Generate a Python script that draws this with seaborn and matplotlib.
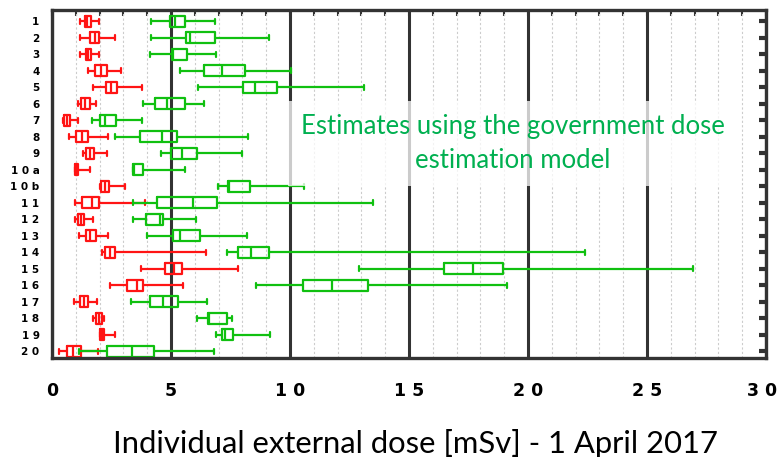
import numpy as np
import pandas as pd
import seaborn as sns
import matplotlib.pyplot as plt
import matplotlib.transforms as mtransforms
from matplotlib.ticker import MultipleLocator

# area labels (top to bottom)
groups = ['1', '2', '3', '4', '5', '6', '7', '8', '9', '10a', '10b',
          '11', '12', '13', '14', '15', '16', '17', '18', '19', '20']
group_labels = ['1', '2', '3', '4', '5', '6', '7', '8', '9', '1 0 a', '1 0 b',
                '1 1', '1 2', '1 3', '1 4', '1 5', '1 6', '1 7', '1 8', '1 9', '2 0']

# measured individual doses [mSv] (red): whisker low, q1, median, q3, whisker high
red_lo = [1.17, 1.17, 1.17, 1.52, 1.73, 1.09, 0.46, 0.71, 1.30, 0.95, 2.00,
          0.96, 0.96, 1.13, 2.09, 3.73, 2.44, 0.92, 1.72, 2.00, 0.29]
red_q1 = [1.38, 1.60, 1.44, 1.80, 2.28, 1.20, 0.50, 1.02, 1.41, 0.96, 2.07,
          1.25, 1.09, 1.41, 2.23, 4.76, 3.14, 1.16, 1.86, 2.02, 0.64]
red_med = [1.48, 1.79, 1.52, 2.04, 2.49, 1.38, 0.61, 1.27, 1.58, 1.02, 2.21,
           1.69, 1.20, 1.59, 2.44, 5.13, 3.56, 1.34, 1.97, 2.10, 0.88]
red_q3 = [1.62, 1.97, 1.65, 2.32, 2.72, 1.58, 0.75, 1.51, 1.76, 1.10, 2.39,
          1.97, 1.34, 1.83, 2.63, 5.48, 3.84, 1.52, 2.11, 2.20, 1.23]
red_hi = [1.97, 2.63, 1.97, 2.91, 3.80, 1.83, 1.09, 2.36, 2.30, 1.59, 3.07,
          3.90, 1.73, 2.36, 6.49, 7.82, 5.52, 1.88, 2.18, 2.63, 1.94]

# government model estimates [mSv] (green)
grn_lo = [4.17, 4.17, 4.12, 5.38, 6.14, 3.84, 1.67, 2.63, 4.57, 3.42, 6.98,
          3.42, 3.42, 4.00, 7.37, 12.88, 8.59, 3.33, 6.08, 6.91, 1.13]
grn_q1 = [4.95, 5.62, 5.06, 6.39, 8.03, 4.33, 2.00, 3.68, 5.02, 3.42, 7.40,
          4.43, 3.94, 5.09, 7.83, 16.49, 10.53, 4.12, 6.56, 7.16, 2.32]
grn_med = [5.16, 5.80, 5.08, 7.13, 8.54, 4.82, 2.23, 4.61, 5.48, 3.45, 7.42,
           5.94, 4.54, 5.37, 8.38, 17.68, 11.76, 4.68, 6.58, 7.27, 3.37]
grn_q3 = [5.59, 6.85, 5.69, 8.11, 9.47, 5.59, 2.70, 5.27, 6.11, 3.84, 8.30,
          6.95, 4.68, 6.21, 9.10, 18.97, 13.26, 5.31, 7.34, 7.62, 4.29]
grn_hi = [6.85, 9.12, 6.91, 10.04, 13.10, 6.39, 3.80, 8.24, 7.97, 5.58, 10.60,
          13.47, 6.04, 8.21, 22.38, 26.93, 19.12, 6.53, 7.55, 9.15, 6.81]

x_ticks = [0, 5, 10, 15, 20, 25, 30]
x_labels = ['0', '5', '1 0', '1 5', '2 0', '2 5', '3 0']

RED = '#ff1414'
GREEN = '#10c010'

# five numbers per box -> quartiles come out exact with whis=(0, 100)
rows = []
series = {'measured': [red_lo, red_q1, red_med, red_q3, red_hi],
          'model': [grn_lo, grn_q1, grn_med, grn_q3, grn_hi]}
for name, cols in series.items():
    for i, g in enumerate(groups):
        for c in cols:
            rows.append((g, name, c[i]))
df = pd.DataFrame(rows, columns=['area', 'series', 'dose'])

sns.set_theme(style='white')
fig, ax = plt.subplots(figsize=(7.8, 4.57), dpi=100)
fig.subplots_adjust(left=0.0667, right=0.982, top=0.978, bottom=0.2166)

sns.boxplot(data=df, x='dose', y='area', hue='series', order=groups,
            hue_order=['measured', 'model'], palette=[RED, GREEN],
            dodge=False, fill=False, whis=(0, 100), width=0.67,
            linewidth=1.6, capwidths=0.3, legend=False, orient='y', ax=ax)

ax.set_xlim(0, 30)
ax.set_ylim(20.42, -0.667)

ax.set_xticks(x_ticks, x_labels)
ax.xaxis.set_minor_locator(MultipleLocator(1))
ax.tick_params(axis='x', which='both', direction='out', length=5, width=1.5,
               color='#333333', labelsize=12.5, pad=12, labelcolor='black')
ax.set_yticks(range(len(groups)), group_labels)
ax.tick_params(axis='y', direction='out', length=5, width=3,
               color='#333333', labelsize=7.5, pad=4, labelcolor='black')
for t in ax.get_xticklabels() + ax.get_yticklabels():
    t.set_fontweight('bold')
# nudge the last label so it stays inside the figure
last = ax.get_xticklabels()[-1]
last.set_transform(last.get_transform() +
                   mtransforms.ScaledTranslation(-3 / 72, 0, fig.dpi_scale_trans))

ax.set_axisbelow(True)
ax.grid(True, axis='x', which='major', color='#333333', lw=2.2)
ax.grid(True, axis='x', which='minor', color='#cccccc', ls=(0, (2, 2)), lw=0.8)
ax.grid(False, axis='y')
for s in ax.spines.values():
    s.set_color('#333333')
    s.set_linewidth(2.4)

# inward ticks on top and right
secx = ax.secondary_xaxis('top')
secx.set_xticks(range(0, 31))
secx.tick_params(direction='in', length=4, width=1.5, color='#333333', labeltop=False)
secx.spines['top'].set_visible(False)
secy = ax.secondary_yaxis('right')
secy.set_yticks(range(len(groups)))
secy.tick_params(direction='in', length=5, width=3, color='#333333', labelright=False)
secy.spines['right'].set_visible(False)

ax.text(19.35, 7.42, 'Estimates using the government dose\nestimation model',
        ha='center', va='center', multialignment='center', color='#00b050',
        fontsize=18.5, family='Lato', linespacing=1.45, zorder=5,
        bbox=dict(boxstyle='square,pad=0.5', fc='white', ec='none', alpha=0.75))

ax.set_xlabel('Individual external dose [mSv] - 1 April 2017', fontsize=22.3,
              family='Lato', color='black')
ax.xaxis.set_label_coords(0.509, -0.205)
ax.set_ylabel('')

fig.savefig('out.png', dpi=100)
